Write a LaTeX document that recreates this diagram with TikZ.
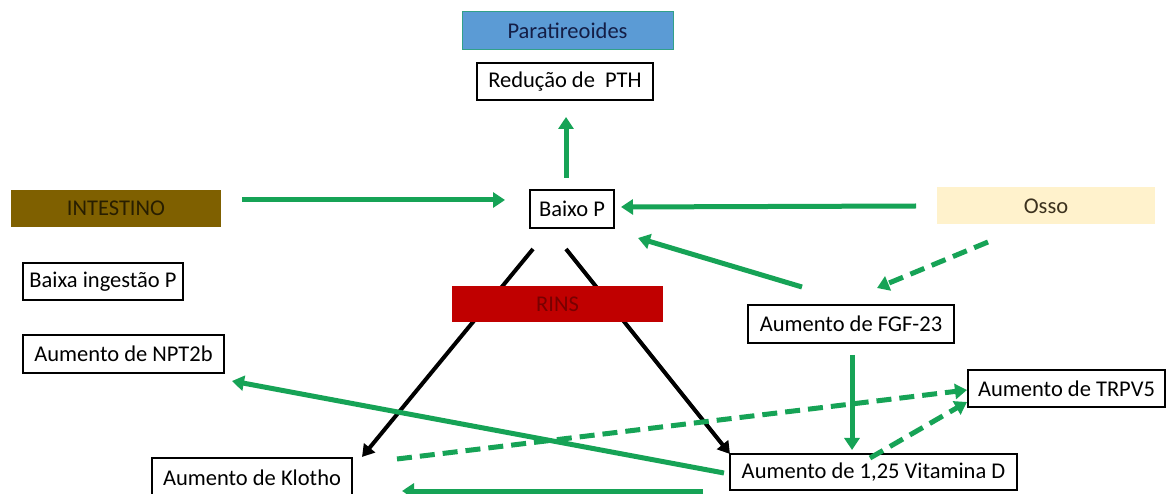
\documentclass[tikz,border=0pt]{standalone}
\usepackage{fontspec}
\setmainfont{Carlito}
\usetikzlibrary{arrows.meta}
\definecolor{gr}{RGB}{22,163,86}
\definecolor{parab}{RGB}{91,155,213}
\definecolor{intb}{RGB}{127,96,0}
\definecolor{rinsr}{RGB}{192,0,0}
\definecolor{osso}{RGB}{255,242,204}
\begin{document}
\begin{tikzpicture}[x=1pt,y=-1pt,
  every node/.style={font=\fontsize{22.5}{26}\selectfont, inner sep=0pt, align=center},
  tbox/.style={draw=black, line width=1.1pt, fill=white},
  cbox/.style={line width=1pt},
  garr/.style={draw=gr, line width=5pt, -{Triangle[length=12pt,width=15pt]}},
  gdash/.style={garr, dash pattern=on 15pt off 8pt},
  barr/.style={draw=black, line width=4pt, -{Triangle[length=12pt,width=14pt]}}]
\useasboundingbox (0,0) rectangle (1171,494);
\fill[white] (0,0) rectangle (1171,494);

% colored boxes
\node[cbox, fill=parab, draw=gr!60!parab, minimum width=211pt, minimum height=38pt, text={rgb,255:red,20;green,30;blue,70}] (para) at (567.5,31) {Paratireoides};
\node[cbox, fill=intb, minimum width=210pt, minimum height=37pt, text={rgb,255:red,40;green,30;blue,0}] (int) at (116,208.5) {INTESTINO};
\node[cbox, fill=osso, minimum width=218pt, minimum height=37pt, text={rgb,255:red,60;green,50;blue,30}] (osso) at (1046,206) {Osso};

% text boxes
\node[tbox, minimum width=176pt, minimum height=37pt] (pth) at (565,81.5) {Redução de\ \ PTH};
\node[tbox, minimum width=84pt, minimum height=38pt] (baixo) at (572,209) {Baixo P};
\node[tbox, minimum width=160pt, minimum height=37pt] (ing) at (103,281.5) {Baixa ingestão P};
\node[tbox, minimum width=201pt, minimum height=38pt] (npt) at (123.5,354) {Aumento de NPT2b};
\node[tbox, minimum width=206pt, minimum height=38pt] (fgf) at (851,324) {Aumento de FGF-23};
\node[tbox, minimum width=197pt, minimum height=37pt] (trpv) at (1066.5,388.5) {Aumento de TRPV5};
\node[tbox, minimum width=287pt, minimum height=36pt] (vitd) at (873.5,472) {Aumento de 1,25 Vitamina D};
\node[tbox, minimum width=200pt, minimum height=40pt] (klo) at (252,478) {Aumento de Klotho};

% coordinates for free ends
\coordinate (bpUp) at (566,178);
\coordinate (pthB) at (566,117);
\coordinate (intE) at (242,200);
\coordinate (bpL) at (505,200);
\coordinate (ossoW) at (916,206);
\coordinate (bpR) at (621,207);
\coordinate (fgfTL) at (802,287);
\coordinate (bpBR) at (638,238);
\coordinate (ossoB) at (988,242);
\coordinate (fgfTR) at (877,288);
\coordinate (fgfB) at (852,355);
\coordinate (vitT) at (852,450);
\coordinate (bpBL) at (533,249);
\coordinate (kloT) at (362,457);
\coordinate (bpBR2) at (566,249);
\coordinate (vitTL) at (730,454);
\coordinate (vitL) at (724,473);
\coordinate (nptR) at (232,381);
\coordinate (kloR) at (397,459);
\coordinate (trpvL) at (967,390);
\coordinate (vitTR) at (870,458);
\coordinate (trpvBL) at (967,402);
\coordinate (botR) at (703,491);
\coordinate (botL) at (402,491);

% black lines behind RINS
\draw[barr] (bpBL) -- (kloT);
\draw[barr] (bpBR2) -- (vitTL);
\node[cbox, fill=rinsr, minimum width=211pt, minimum height=36pt, text={rgb,255:red,120;green,0;blue,0}] (rins) at (557.5,304) {RINS};

% green arrows
\draw[garr] (bpUp) -- (pthB);
\draw[garr] (intE) -- (bpL);
\draw[garr] (ossoW) -- (bpR);
\draw[garr] (fgfTL) -- (bpBR);
\draw[gdash] (ossoB) -- (fgfTR);
\draw[garr] (fgfB) -- (vitT);
\draw[garr] (vitL) -- (nptR);
\draw[gdash] (kloR) -- (trpvL);
\draw[gdash] (vitTR) -- (trpvBL);
\draw[garr] (botR) -- (botL);
\end{tikzpicture}
\end{document}
